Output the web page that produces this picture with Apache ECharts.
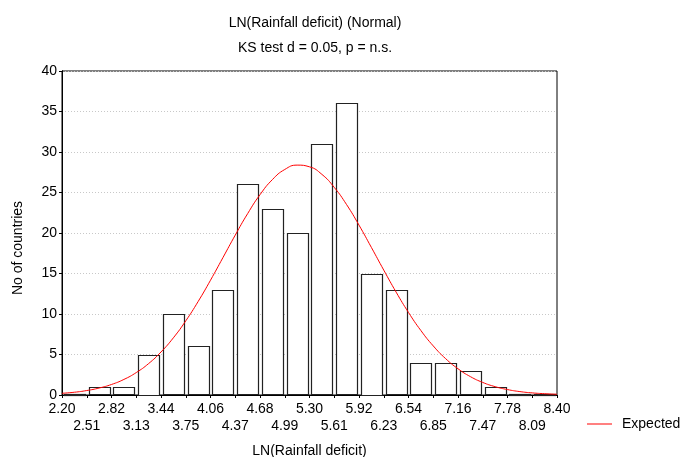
<!DOCTYPE html>
<html>
<head>
<meta charset="utf-8">
<script src="https://cdn.jsdelivr.net/npm/echarts@6/dist/echarts.min.js"></script>
<style>html,body{margin:0;padding:0;background:#fff}#c{width:685px;height:457px}</style>
</head>
<body>
<div id="c"></div>
<script>
// Bin edge tick labels (21 edges, bin width 0.31)
const tickLabels = ['2.20','2.51','2.82','3.13','3.44','3.75','4.06','4.37','4.68','4.99','5.30','5.61','5.92','6.23','6.54','6.85','7.16','7.47','7.78','8.09','8.40'];
// Observed counts per bin (20 bins)
const counts = [0,1,1,5,10,6,13,26,23,20,31,36,15,13,4,4,3,1,0,0];
// Expected normal curve read at every half bin (41 points, from 2.20 to 8.40)
const expected = [0.21,0.34,0.55,0.86,1.30,1.92,2.77,3.88,5.31,7.06,9.15,11.54,14.17,16.95,19.74,22.39,24.73,26.59,27.84,28.38,28.17,27.24,25.63,23.50,20.97,18.22,15.42,12.70,10.19,7.96,6.06,4.49,3.24,2.27,1.55,1.03,0.67,0.42,0.26,0.16,0.09];
const yTicks = [0,5,10,15,20,25,30,35,40];

const FONT = 'Liberation Sans, Arial, sans-serif';
const FS = 14;
const chart = echarts.init(document.getElementById('c'), null, {renderer:'canvas'});

const barData = counts.map((v,i)=>[i, v]);
const curveData = expected.map((v,k)=>[k/2, v]);

chart.setOption({
  animation:false,
  backgroundColor:'#fff',
  textStyle:{fontFamily:FONT, color:'#000'},
  title:[
    {text:'LN(Rainfall deficit) (Normal)', left:310, top:11, textAlign:'center', textStyle:{fontFamily:FONT, fontSize:FS, fontWeight:'normal', color:'#000'}},
    {text:'KS test d = 0.05, p = n.s.', left:310, top:36, textAlign:'center', textStyle:{fontFamily:FONT, fontSize:FS, fontWeight:'normal', color:'#000'}}
  ],
  legend:{
    data:[{name:'Expected', icon:'path://M0,0L25,0L25,1L0,1Z'}], left:582, top:412, itemWidth:25, itemHeight:1, itemGap:10,
    textStyle:{fontFamily:FONT, fontSize:FS, color:'#000', padding:[0,0,0,5]}
  },
  grid:{left:62, right:128, top:71, bottom:62, containLabel:false, outerBoundsMode:'none',
    show:true, borderColor:'#000', borderWidth:1, backgroundColor:'transparent'},
  xAxis:[{
    type:'value', min:0, max:20, interval:1,
    name:'LN(Rainfall deficit)', nameLocation:'middle', nameGap:49,
    nameTextStyle:{fontFamily:FONT, fontSize:FS, color:'#000'},
    axisLine:{show:true, lineStyle:{color:'#000'}},
    axisTick:{show:false},
    splitLine:{show:false},
    axisLabel:{show:false}
  },{
    type:'value', min:0, max:20, interval:1, position:'top',
    axisLine:{show:true, lineStyle:{color:'#000'}},
    axisTick:{show:true, inside:true, length:3, lineStyle:{color:'#000'}},
    axisLabel:{show:false}, splitLine:{show:false}
  },{
    type:'category', data:tickLabels, boundaryGap:false, position:'bottom',
    axisLine:{show:false}, axisTick:{show:false}, splitLine:{show:false},
    axisLabel:{
      interval:0, fontFamily:FONT, fontSize:FS, color:'#000', margin:6, lineHeight:17,
      formatter:(v, i)=> i%2===0 ? v : '\n'+v
    }
  }],
  yAxis:[{
    type:'value', min:0, max:40, interval:5,
    name:'No of countries', nameLocation:'middle', nameGap:37,
    nameTextStyle:{fontFamily:FONT, fontSize:FS, color:'#000', padding:[0,30,0,0]},
    axisLine:{show:true, lineStyle:{color:'#000'}},
    axisTick:{show:true, length:3, lineStyle:{color:'#000'}},
    axisLabel:{fontFamily:FONT, fontSize:FS, color:'#000', margin:5,
      formatter:(v)=> yTicks.includes(v) ? String(v) : ''},
    splitLine:{show:true, lineStyle:{color:'#c8c8c8', type:[1,2], width:1}}
  },{
    type:'value', min:0, max:40, interval:5, position:'right',
    axisLine:{show:true, lineStyle:{color:'#000'}},
    axisTick:{show:true, inside:true, length:3, lineStyle:{color:'#000'}},
    axisLabel:{show:false}, splitLine:{show:false}
  }],
  series:[{
    name:'Observed', type:'custom', xAxisIndex:0, yAxisIndex:0, z:2,
    data:barData,
    renderItem:(params, api)=>{
      const i = api.value(0), v = api.value(1);
      const p0 = api.coord([i+0.08, v]);
      const p1 = api.coord([i+0.92, 0]);
      return {type:'rect', shape:{x:Math.round(p0[0])+0.5, y:Math.round(p0[1])+0.5, width:Math.round(p1[0]-p0[0]), height:Math.round(p1[1]-p0[1])-1},
        style:{fill:'#fff', stroke:'#222', lineWidth:1.2}};
    },
    encode:{x:0, y:1}
  },{
    name:'Expected', type:'line', xAxisIndex:0, yAxisIndex:0, z:3,
    data:curveData, smooth:true, symbol:'none', showSymbol:false,
    lineStyle:{color:'#ff0000', width:1}, itemStyle:{color:'#ff0000'}
  }]
});
</script>
</body>
</html>
